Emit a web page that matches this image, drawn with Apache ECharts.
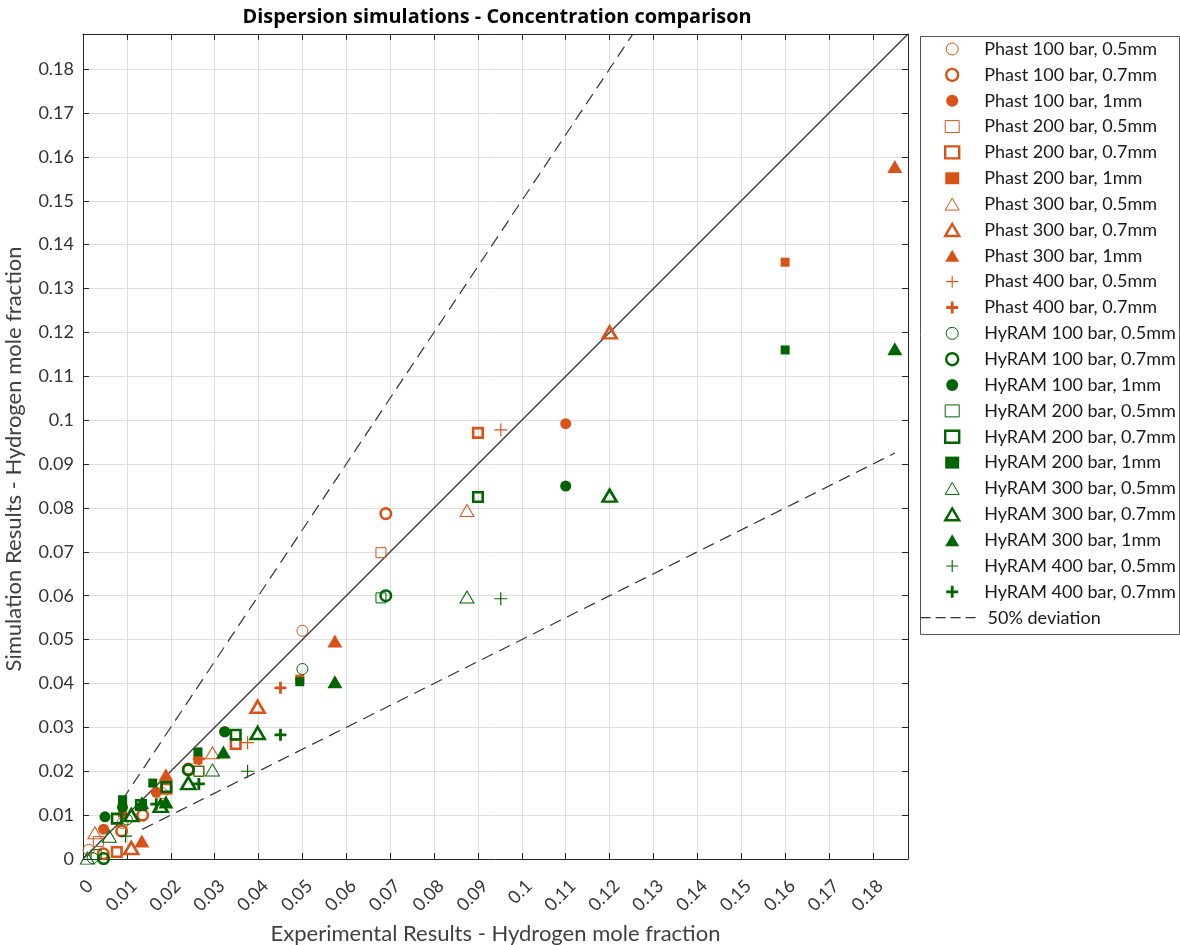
<!DOCTYPE html>
<html>
<head>
<meta charset="utf-8">
<script src="https://cdn.jsdelivr.net/npm/echarts@6/dist/echarts.min.js"></script>
<style>html,body{margin:0;padding:0;background:#fff}#c{width:1180px;height:945px}</style>
</head>
<body>
<div id="c"></div>
<script>
// ---- data (experimental, simulated) ----
const phast100_05 = [[0.0013,0.0021],[0.0090,0.0082],[0.0180,0.0150],[0.050,0.052]];
const phast100_07 = [[0.0046,0.0012],[0.0088,0.0064],[0.0136,0.0100],[0.0240,0.0205],[0.069,0.0787]];
const phast100_1  = [[0.0047,0.0068],[0.0167,0.0152],[0.0323,0.0290],[0.110,0.0992]];
const phast200_05 = [[0.0035,0.0040],[0.0264,0.0200],[0.0679,0.0698]];
const phast200_07 = [[0.0077,0.0016],[0.0190,0.0160],[0.0348,0.0262],[0.090,0.0971]];
const phast200_1  = [[0.0090,0.0105],[0.0262,0.0226],[0.0494,0.0410],[0.160,0.136]];
const phast300_05 = [[0.0027,0.0060],[0.0295,0.0242],[0.0875,0.0794]];
const phast300_07 = [[0.0110,0.0025],[0.0398,0.0347],[0.120,0.120]];
const phast300_1  = [[0.0134,0.0041],[0.0189,0.0192],[0.0574,0.0497],[0.185,0.1578]];
const phast400_05 = [[0.0375,0.0265],[0.0952,0.0978]];
const phast400_07 = [[0.0264,0.0228],[0.045,0.039]];
const hyram100_05 = [[0.0022,0.0002],[0.0100,0.0090],[0.050,0.0433]];
const hyram100_07 = [[0.0047,0.0001],[0.0240,0.0203],[0.069,0.060]];
const hyram100_1  = [[0.0050,0.0096],[0.0090,0.0118],[0.0323,0.0290],[0.110,0.085]];
const hyram200_05 = [[0.0030,0.0010],[0.0264,0.0200],[0.0679,0.0595]];
const hyram200_07 = [[0.0077,0.0092],[0.0132,0.0123],[0.0190,0.0164],[0.0348,0.0283],[0.090,0.0825]];
const hyram200_1  = [[0.0090,0.0135],[0.0159,0.0173],[0.0262,0.0244],[0.0494,0.0404],[0.160,0.116]];
const hyram300_05 = [[0.0010,0.0002],[0.0060,0.0052],[0.0295,0.0203],[0.0875,0.0597]];
const hyram300_07 = [[0.0110,0.0100],[0.0177,0.0121],[0.0240,0.0173],[0.0398,0.0287],[0.120,0.0828]];
const hyram300_1  = [[0.0134,0.0128],[0.0189,0.0130],[0.0320,0.0244],[0.0574,0.0404],[0.185,0.1163]];
const hyram400_05 = [[0.0097,0.0052],[0.0375,0.0200],[0.0952,0.0593]];
const hyram400_07 = [[0.0167,0.0125],[0.0264,0.0171],[0.045,0.0283]];

const identityLine = [[0,0],[0.188,0.188]];
const upperDev = [[0.009,0.0135],[0.1253,0.188]];
const lowerDev = [[0.0135,0.00675],[0.185,0.0925]];

const axisMin = 0, axisMax = 0.188, axisStep = 0.01;

const seriesNames = [
 'Phast 100 bar, 0.5mm','Phast 100 bar, 0.7mm','Phast 100 bar, 1mm',
 'Phast 200 bar, 0.5mm','Phast 200 bar, 0.7mm','Phast 200 bar, 1mm',
 'Phast 300 bar, 0.5mm','Phast 300 bar, 0.7mm','Phast 300 bar, 1mm',
 'Phast 400 bar, 0.5mm','Phast 400 bar, 0.7mm',
 'HyRAM 100 bar, 0.5mm','HyRAM 100 bar, 0.7mm','HyRAM 100 bar, 1mm',
 'HyRAM 200 bar, 0.5mm','HyRAM 200 bar, 0.7mm','HyRAM 200 bar, 1mm',
 'HyRAM 300 bar, 0.5mm','HyRAM 300 bar, 0.7mm','HyRAM 300 bar, 1mm',
 'HyRAM 400 bar, 0.5mm','HyRAM 400 bar, 0.7mm'
];
const seriesData = [phast100_05,phast100_07,phast100_1,phast200_05,phast200_07,phast200_1,
 phast300_05,phast300_07,phast300_1,phast400_05,phast400_07,
 hyram100_05,hyram100_07,hyram100_1,hyram200_05,hyram200_07,hyram200_1,
 hyram300_05,hyram300_07,hyram300_1,hyram400_05,hyram400_07];
const devName = '50% deviation';

// ---- styling ----
const ORANGE = '#D95319', GREEN = '#006400';
const PLUS_THIN = 'path://M5.45,0H6.55V5.45H12V6.55H6.55V12H5.45V6.55H0V5.45H5.45Z';
const PLUS_THICK = 'path://M4.6,0H7.4V4.6H12V7.4H7.4V12H4.6V7.4H0V4.6H4.6Z';
// style per kind: [symbol, size, hollow, borderWidth]
const kinds = {
  c05:['circle',11,true,1], c07:['circle',10.5,true,2.6], c1:['circle',11,false,0],
  s05:['rect',10,true,1], s07:['rect',9.5,true,2.6], s1:['rect',9,false,0],
  t05:['triangle',[14,12],true,1], t07:['triangle',[14,12],true,2.6], t1:['triangle',[15,13],false,0],
  p05:[PLUS_THIN,13,false,0], p07:[PLUS_THICK,12,false,0]
};
const kindOrder = ['c05','c07','c1','s05','s07','s1','t05','t07','t1','p05','p07'];

const series = [];
const legendData = [];
seriesData.forEach((d,i)=>{
  const col = i < 11 ? ORANGE : GREEN;
  const k = kinds[kindOrder[i % 11]];
  const itemStyle = k[2]
    ? {color:'rgba(255,255,255,0)', borderColor:col, borderWidth:k[3], opacity:1}
    : {color:col, borderWidth:0, opacity:1};
  series.push({
    type:'scatter', name:seriesNames[i], data:d, symbol:k[0], symbolSize:k[1],
    itemStyle, z:3, emphasis:{disabled:true}
  });
  legendData.push({name:seriesNames[i], itemStyle: k[2]
    ? {borderWidth:Math.min(k[3],2.4), borderColor:col, color:'rgba(255,255,255,0)', opacity:1}
    : {borderWidth:0, color:col, opacity:1}});
});
series.push({type:'line', name:'identity', data:identityLine, symbol:'none', lineStyle:{color:'#333',width:1.2}, z:2, silent:true});
series.push({type:'line', name:devName, data:upperDev, symbol:'none', itemStyle:{color:'#333'}, lineStyle:{color:'#333',width:1.2,type:[12,7]}, z:2, silent:true});
series.push({type:'line', name:devName, data:lowerDev, symbol:'none', itemStyle:{color:'#333'}, lineStyle:{color:'#333',width:1.2,type:[12,7]}, z:2, silent:true});

const FONT = 'Lato';
const fmt = v => String(Number(v.toFixed(2)));
const baseAxis = {
  type:'value', min:axisMin, max:axisMax, interval:axisStep,
  axisLine:{show:true, onZero:false, lineStyle:{color:'#262626', width:1}},
  axisTick:{show:true, inside:true, length:6, lineStyle:{color:'#262626'}},
  splitLine:{show:true, lineStyle:{color:'#dedede', width:1}}
};
const legendText = {fontFamily:FONT, fontSize:18, color:'#1a1a1a', lineHeight:18};

const chart = echarts.init(document.getElementById('c'), null, {renderer:'canvas'});
chart.setOption({
  animation:false,
  backgroundColor:'#fff',
  textStyle:{fontFamily:FONT},
  title:{text:'Dispersion simulations - Concentration comparison', left:492, top:2, textAlign:'center',
    textStyle:{fontFamily:'Open Sans', fontWeight:'bold', fontSize:19.9, color:'#000'}},
  grid:{left:83, top:34, right:272, bottom:86, containLabel:false, outerBoundsMode:'none'},
  legend:[
    {orient:'vertical', left:944, top:40, itemWidth:14, itemHeight:12, itemGap:7.85,
      padding:0, data:legendData, selectedMode:false,
      textStyle:Object.assign({padding:[0,0,0,20]}, legendText)},
    {orient:'vertical', left:920, top:608.7, itemWidth:55, itemHeight:12, padding:0, selectedMode:false,
      data:[{name:devName, itemStyle:{color:'rgba(0,0,0,0)', borderWidth:0, opacity:0},
        lineStyle:{color:'#333', width:1.2, type:[10,5]}}],
      textStyle:Object.assign({padding:[0,0,0,7]}, legendText)}
  ],
  graphic:[{type:'rect', left:918, top:34, shape:{width:259, height:598},
    style:{fill:'none', stroke:'#555', lineWidth:1}, z:-1}],
  xAxis:[
    Object.assign({}, baseAxis, {position:'bottom',
      name:'Experimental Results - Hydrogen mole fraction', nameLocation:'middle', nameGap:64,
      nameTextStyle:{fontFamily:FONT, fontSize:22, color:'#404040'},
      axisLabel:{rotate:45, fontSize:18, color:'#333', fontFamily:FONT, margin:17,
        align:'right', verticalAlign:'top', lineHeight:20,
        showMaxLabel:false, formatter:fmt}}),
    Object.assign({}, baseAxis, {position:'top', splitLine:{show:false}, axisLabel:{show:false}})
  ],
  yAxis:[
    Object.assign({}, baseAxis, {position:'left',
      name:'Simulation Results - Hydrogen mole fraction', nameLocation:'middle', nameGap:58,
      nameTextStyle:{fontFamily:FONT, fontSize:22, color:'#404040', padding:[0,25,0,0]},
      axisLabel:{fontSize:18, color:'#333', fontFamily:FONT, margin:9, showMaxLabel:false, formatter:fmt}}),
    Object.assign({}, baseAxis, {position:'right', splitLine:{show:false}, axisLabel:{show:false}})
  ],
  series
});
</script>
</body>
</html>
